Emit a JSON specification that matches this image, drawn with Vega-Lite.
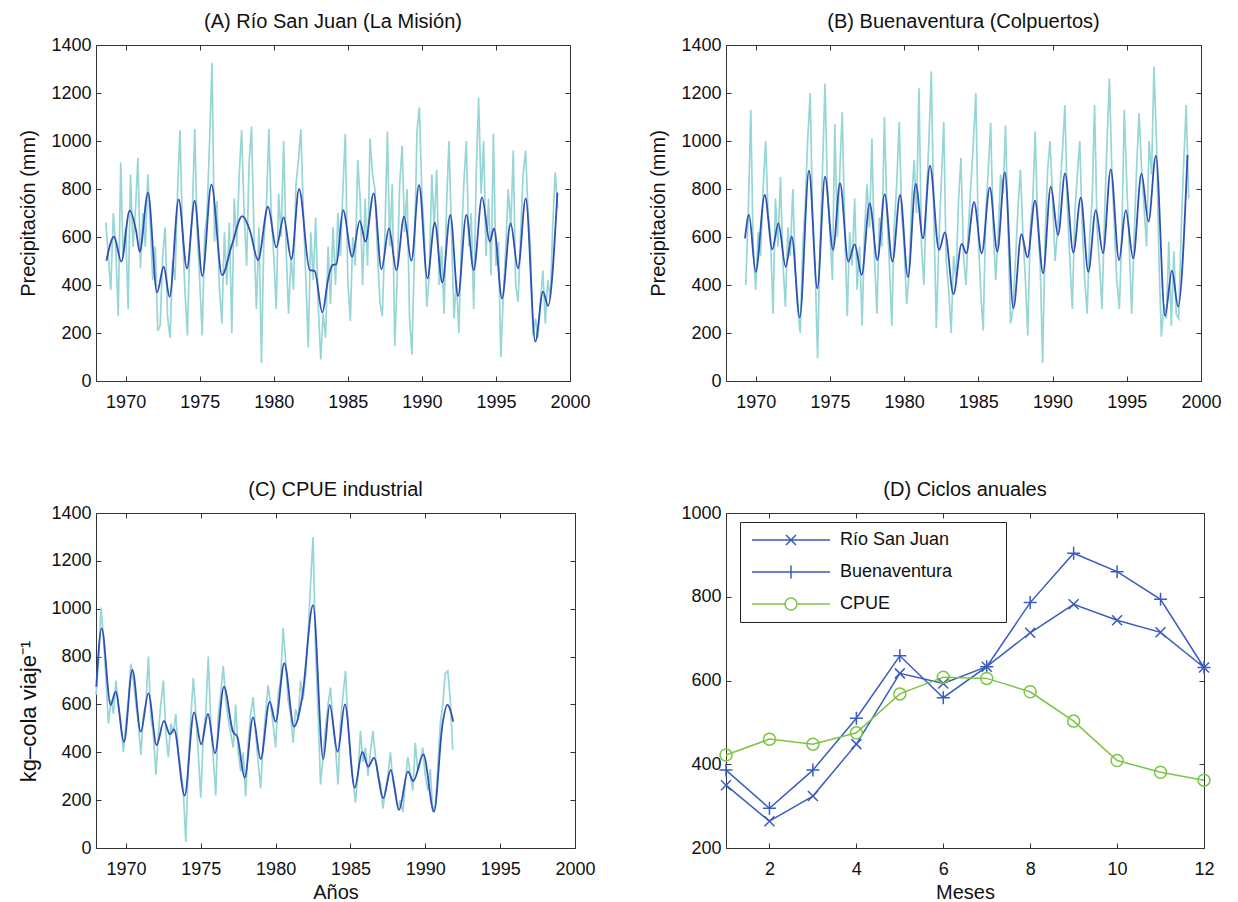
{
"$schema":"https://vega.github.io/schema/vega-lite/v6.json",
"background":"white",
"padding":{"left":17,"top":11,"right":5,"bottom":0},
"config":{
 "font":"Liberation Sans",
 "view":{"stroke":"#333","strokeWidth":1},
 "axis":{"grid":false,"domain":false,"tickSize":-5,"tickColor":"#333","tickWidth":1,"labelFontSize":18,"labelColor":"#111","titleFontSize":20,"titleFontWeight":"normal","titleColor":"#111","labelFlush":false,"labelOverlap":false},
 "axisX":{"labelPadding":17,"titlePadding":4},
 "axisY":{"labelPadding":10,"titlePadding":12},
 "title":{"fontSize":20,"fontWeight":"normal","offset":4,"color":"#111"}
},
"datasets":{
"raw":[
{"t":1968.00,"c":640},{"t":1968.17,"c":780},{"t":1968.33,"c":1005},{"t":1968.50,"c":880},{"t":1968.67,"a":660,"c":700},{"t":1968.83,"a":520,"c":520},
{"t":1969.00,"a":380,"c":620},{"t":1969.17,"a":700,"c":560},{"t":1969.33,"a":560,"b":400,"c":700},{"t":1969.50,"a":270,"b":700,"c":600},{"t":1969.67,"a":910,"b":1130,"c":520},{"t":1969.83,"a":520,"b":560,"c":400},
{"t":1970.00,"a":640,"b":380,"c":520},{"t":1970.17,"a":300,"b":620,"c":620},{"t":1970.33,"a":860,"b":520,"c":770},{"t":1970.50,"a":560,"b":800,"c":700},{"t":1970.67,"a":720,"b":1000,"c":600},{"t":1970.83,"a":930,"b":700,"c":520},
{"t":1971.00,"a":470,"b":600,"c":390},{"t":1971.17,"a":700,"b":280,"c":560},{"t":1971.33,"a":560,"b":760,"c":600},{"t":1971.50,"a":860,"b":560,"c":800},{"t":1971.67,"a":640,"b":850,"c":540},{"t":1971.83,"a":420,"b":500,"c":480},
{"t":1972.00,"a":560,"b":310,"c":305},{"t":1972.17,"a":210,"b":640,"c":480},{"t":1972.33,"a":230,"b":520,"c":600},{"t":1972.50,"a":520,"b":800,"c":700},{"t":1972.67,"a":640,"b":460,"c":480},{"t":1972.83,"a":270,"b":300,"c":380},
{"t":1973.00,"a":180,"b":200,"c":520},{"t":1973.17,"a":500,"b":560,"c":480},{"t":1973.33,"a":420,"b":720,"c":560},{"t":1973.50,"a":780,"b":1000,"c":400},{"t":1973.67,"a":1045,"b":1200,"c":320},{"t":1973.83,"a":640,"b":700,"c":240},
{"t":1974.00,"a":380,"b":480,"c":25},{"t":1974.17,"a":190,"b":95,"c":360},{"t":1974.33,"a":560,"b":560,"c":540},{"t":1974.50,"a":700,"b":880,"c":710},{"t":1974.67,"a":1050,"b":1240,"c":560},{"t":1974.83,"a":620,"b":800,"c":400},
{"t":1975.00,"a":420,"b":620,"c":210},{"t":1975.17,"a":190,"b":420,"c":480},{"t":1975.33,"a":600,"b":1070,"c":560},{"t":1975.50,"a":700,"b":600,"c":800},{"t":1975.67,"a":1000,"b":880,"c":520},{"t":1975.83,"a":1325,"b":1120,"c":380},
{"t":1976.00,"a":580,"b":640,"c":220},{"t":1976.17,"a":750,"b":270,"c":560},{"t":1976.33,"a":390,"b":620,"c":640},{"t":1976.50,"a":240,"b":480,"c":760},{"t":1976.67,"a":620,"b":760,"c":620},{"t":1976.83,"a":400,"b":380,"c":540},
{"t":1977.00,"a":660,"b":560,"c":480},{"t":1977.17,"a":200,"b":230,"c":420},{"t":1977.33,"a":760,"b":620,"c":600},{"t":1977.50,"a":560,"b":820,"c":400},{"t":1977.67,"a":860,"b":640,"c":320},{"t":1977.83,"a":1045,"b":1010,"c":400},
{"t":1978.00,"a":700,"b":520,"c":215},{"t":1978.17,"a":480,"b":280,"c":440},{"t":1978.33,"a":900,"b":680,"c":560},{"t":1978.50,"a":1060,"b":560,"c":630},{"t":1978.67,"a":600,"b":1100,"c":480},{"t":1978.83,"a":300,"b":720,"c":360},
{"t":1979.00,"a":640,"b":500,"c":250},{"t":1979.17,"a":75,"b":230,"c":440},{"t":1979.33,"a":580,"b":640,"c":560},{"t":1979.50,"a":720,"b":820,"c":680},{"t":1979.67,"a":1050,"b":1080,"c":600},{"t":1979.83,"a":700,"b":700,"c":520},
{"t":1980.00,"a":520,"b":560,"c":420},{"t":1980.17,"a":300,"b":320,"c":640},{"t":1980.33,"a":780,"b":440,"c":700},{"t":1980.50,"a":600,"b":740,"c":920},{"t":1980.67,"a":1000,"b":920,"c":780},{"t":1980.83,"a":560,"b":700,"c":620},
{"t":1981.00,"a":280,"b":1220,"c":560},{"t":1981.17,"a":520,"b":560,"c":440},{"t":1981.33,"a":380,"b":400,"c":580},{"t":1981.50,"a":820,"b":760,"c":540},{"t":1981.67,"a":920,"b":1000,"c":700},{"t":1981.83,"a":1050,"b":1290,"c":620},
{"t":1982.00,"a":700,"b":700,"c":720},{"t":1982.17,"a":420,"b":220,"c":880},{"t":1982.33,"a":140,"b":560,"c":1100},{"t":1982.50,"a":620,"b":820,"c":1300},{"t":1982.67,"a":420,"b":1080,"c":820},{"t":1982.83,"a":680,"b":500,"c":580},
{"t":1983.00,"a":320,"b":380,"c":265},{"t":1983.17,"a":90,"b":200,"c":380},{"t":1983.33,"a":280,"b":520,"c":500},{"t":1983.50,"a":180,"b":420,"c":600},{"t":1983.67,"a":560,"b":760,"c":670},{"t":1983.83,"a":320,"b":930,"c":520},
{"t":1984.00,"a":640,"b":520,"c":420},{"t":1984.17,"a":400,"b":400,"c":265},{"t":1984.33,"a":700,"b":640,"c":520},{"t":1984.50,"a":520,"b":820,"c":640},{"t":1984.67,"a":800,"b":1000,"c":740},{"t":1984.83,"a":1030,"b":1200,"c":520},
{"t":1985.00,"a":420,"b":600,"c":380},{"t":1985.17,"a":250,"b":360,"c":290},{"t":1985.33,"a":600,"b":210,"c":190},{"t":1985.50,"a":480,"b":700,"c":300},{"t":1985.67,"a":920,"b":880,"c":490},{"t":1985.83,"a":760,"b":1075,"c":360},
{"t":1986.00,"a":400,"b":640,"c":420},{"t":1986.17,"a":760,"b":420,"c":300},{"t":1986.33,"a":480,"b":600,"c":400},{"t":1986.50,"a":1010,"b":860,"c":490},{"t":1986.67,"a":860,"b":780,"c":380},{"t":1986.83,"a":800,"b":1065,"c":300},
{"t":1987.00,"a":540,"b":640,"c":270},{"t":1987.17,"a":330,"b":240,"c":165},{"t":1987.33,"a":270,"b":300,"c":240},{"t":1987.50,"a":600,"b":500,"c":300},{"t":1987.67,"a":1040,"b":720,"c":400},{"t":1987.83,"a":560,"b":880,"c":280},
{"t":1988.00,"a":820,"b":620,"c":240},{"t":1988.17,"a":145,"b":420,"c":160},{"t":1988.33,"a":420,"b":190,"c":200},{"t":1988.50,"a":820,"b":640,"c":150},{"t":1988.67,"a":980,"b":760,"c":280},{"t":1988.83,"a":620,"b":1040,"c":380},
{"t":1989.00,"a":800,"b":640,"c":310},{"t":1989.17,"a":260,"b":480,"c":240},{"t":1989.33,"a":110,"b":75,"c":440},{"t":1989.50,"a":540,"b":600,"c":320},{"t":1989.67,"a":1040,"b":880,"c":360},{"t":1989.83,"a":1140,"b":1000,"c":420},
{"t":1990.00,"a":780,"b":760,"c":300},{"t":1990.17,"a":600,"b":500,"c":240},{"t":1990.33,"a":310,"b":620,"c":330},{"t":1990.50,"a":440,"b":800,"c":150},{"t":1990.67,"a":860,"b":960,"c":180},{"t":1990.83,"a":640,"b":1150,"c":330},
{"t":1991.00,"a":880,"b":720,"c":520},{"t":1991.17,"a":400,"b":500,"c":600},{"t":1991.33,"a":560,"b":300,"c":730},{"t":1991.50,"a":280,"b":700,"c":740},{"t":1991.67,"a":740,"b":860,"c":620},{"t":1991.83,"a":1000,"b":1000,"c":410},
{"t":1992.00,"a":620,"b":640},{"t":1992.17,"a":260,"b":420},{"t":1992.33,"a":420,"b":280},{"t":1992.50,"a":200,"b":600},{"t":1992.67,"a":580,"b":760},{"t":1992.83,"a":820,"b":1150},
{"t":1993.00,"a":1000,"b":640},{"t":1993.17,"a":560,"b":480},{"t":1993.33,"a":700,"b":300},{"t":1993.50,"a":300,"b":680},{"t":1993.67,"a":860,"b":1000},{"t":1993.83,"a":1180,"b":1260},
{"t":1994.00,"a":780,"b":860},{"t":1994.17,"a":1000,"b":640},{"t":1994.33,"a":520,"b":420},{"t":1994.50,"a":760,"b":300},{"t":1994.67,"a":440,"b":620},{"t":1994.83,"a":1030,"b":1130},
{"t":1995.00,"a":480,"b":820},{"t":1995.17,"a":580,"b":560},{"t":1995.33,"a":100,"b":280},{"t":1995.50,"a":360,"b":600},{"t":1995.67,"a":560,"b":900},{"t":1995.83,"a":800,"b":1115},
{"t":1996.00,"a":640,"b":880},{"t":1996.17,"a":960,"b":720},{"t":1996.33,"a":400,"b":560},{"t":1996.50,"a":330,"b":1000},{"t":1996.67,"a":620,"b":860},{"t":1996.83,"a":860,"b":1310},
{"t":1997.00,"a":960,"b":1000},{"t":1997.17,"a":700,"b":500},{"t":1997.33,"a":560,"b":185},{"t":1997.50,"a":190,"b":320},{"t":1997.67,"a":260,"b":260},{"t":1997.83,"a":180,"b":580},
{"t":1998.00,"a":330,"b":230},{"t":1998.17,"a":460,"b":540},{"t":1998.33,"a":240,"b":280},{"t":1998.50,"a":420,"b":260},{"t":1998.67,"a":340,"b":640},{"t":1998.83,"a":640,"b":900},
{"t":1999.00,"a":870,"b":1150},{"t":1999.17,"a":720,"b":760}
],
"smA":[
{"t":1968.70,"v":501},{"t":1969.22,"v":601},{"t":1969.71,"v":497},{"t":1970.27,"v":710},{"t":1970.72,"v":622},{"t":1970.95,"v":539},{"t":1971.51,"v":785},{"t":1972.12,"v":369},{"t":1972.57,"v":476},{"t":1972.97,"v":351},{"t":1973.58,"v":757},{"t":1974.14,"v":469},{"t":1974.66,"v":751},{"t":1975.18,"v":437},{"t":1975.79,"v":819},{"t":1976.51,"v":441},{"t":1977.14,"v":560},{"t":1977.88,"v":687},{"t":1978.38,"v":629},{"t":1978.94,"v":504},{"t":1979.61,"v":726},{"t":1980.17,"v":557},{"t":1980.67,"v":682},{"t":1981.19,"v":507},{"t":1981.71,"v":800},{"t":1982.43,"v":462},{"t":1982.76,"v":459},{"t":1983.28,"v":285},{"t":1983.66,"v":421},{"t":1983.96,"v":483},{"t":1984.23,"v":487},{"t":1984.68,"v":712},{"t":1985.29,"v":518},{"t":1985.81,"v":667},{"t":1986.19,"v":581},{"t":1986.75,"v":782},{"t":1987.27,"v":465},{"t":1987.78,"v":636},{"t":1988.28,"v":462},{"t":1988.80,"v":685},{"t":1989.29,"v":501},{"t":1989.81,"v":817},{"t":1990.37,"v":428},{"t":1990.87,"v":660},{"t":1991.38,"v":410},{"t":1991.92,"v":692},{"t":1992.44,"v":354},{"t":1993.00,"v":692},{"t":1993.50,"v":462},{"t":1994.06,"v":765},{"t":1994.58,"v":581},{"t":1994.87,"v":636},{"t":1995.41,"v":344},{"t":1995.99,"v":657},{"t":1996.49,"v":469},{"t":1997.01,"v":761},{"t":1997.66,"v":164},{"t":1998.18,"v":372},{"t":1998.52,"v":313},{"t":1999.15,"v":785}
],
"smB":[
{"t":1969.28,"v":594},{"t":1969.55,"v":692},{"t":1970.00,"v":455},{"t":1970.61,"v":775},{"t":1971.12,"v":549},{"t":1971.53,"v":657},{"t":1972.02,"v":476},{"t":1972.43,"v":601},{"t":1972.97,"v":265},{"t":1973.59,"v":876},{"t":1974.15,"v":386},{"t":1974.67,"v":851},{"t":1975.21,"v":546},{"t":1975.68,"v":824},{"t":1976.24,"v":497},{"t":1976.67,"v":569},{"t":1977.14,"v":442},{"t":1977.68,"v":740},{"t":1978.20,"v":504},{"t":1978.69,"v":779},{"t":1979.21,"v":497},{"t":1979.73,"v":775},{"t":1980.26,"v":432},{"t":1980.78,"v":821},{"t":1981.27,"v":594},{"t":1981.74,"v":897},{"t":1982.35,"v":546},{"t":1982.75,"v":619},{"t":1983.32,"v":362},{"t":1983.88,"v":571},{"t":1984.19,"v":532},{"t":1984.71,"v":745},{"t":1985.23,"v":532},{"t":1985.77,"v":807},{"t":1986.28,"v":539},{"t":1986.78,"v":869},{"t":1987.36,"v":303},{"t":1987.90,"v":612},{"t":1988.31,"v":515},{"t":1988.82,"v":751},{"t":1989.36,"v":449},{"t":1989.88,"v":810},{"t":1990.37,"v":608},{"t":1990.84,"v":865},{"t":1991.40,"v":535},{"t":1991.90,"v":764},{"t":1992.41,"v":455},{"t":1992.91,"v":712},{"t":1993.40,"v":532},{"t":1993.92,"v":882},{"t":1994.48,"v":504},{"t":1994.93,"v":712},{"t":1995.43,"v":511},{"t":1995.99,"v":865},{"t":1996.46,"v":664},{"t":1996.96,"v":939},{"t":1997.58,"v":271},{"t":1998.04,"v":460},{"t":1998.46,"v":310},{"t":1999.09,"v":942}
],
"smC":[
{"t":1968.02,"v":674},{"t":1968.38,"v":918},{"t":1968.98,"v":598},{"t":1969.31,"v":653},{"t":1969.87,"v":444},{"t":1970.43,"v":744},{"t":1970.99,"v":486},{"t":1971.50,"v":646},{"t":1972.05,"v":430},{"t":1972.54,"v":531},{"t":1972.94,"v":475},{"t":1973.21,"v":496},{"t":1973.92,"v":219},{"t":1974.55,"v":567},{"t":1975.03,"v":433},{"t":1975.48,"v":560},{"t":1975.95,"v":396},{"t":1976.55,"v":674},{"t":1977.15,"v":486},{"t":1977.44,"v":465},{"t":1977.93,"v":294},{"t":1978.49,"v":546},{"t":1979.00,"v":372},{"t":1979.60,"v":611},{"t":1980.00,"v":528},{"t":1980.58,"v":772},{"t":1981.23,"v":507},{"t":1981.78,"v":632},{"t":1982.50,"v":1015},{"t":1983.18,"v":372},{"t":1983.61,"v":598},{"t":1984.14,"v":402},{"t":1984.63,"v":600},{"t":1985.28,"v":252},{"t":1985.79,"v":402},{"t":1986.19,"v":340},{"t":1986.57,"v":377},{"t":1987.19,"v":208},{"t":1987.69,"v":326},{"t":1988.24,"v":159},{"t":1988.84,"v":319},{"t":1989.20,"v":280},{"t":1989.87,"v":391},{"t":1990.58,"v":152},{"t":1991.14,"v":514},{"t":1991.47,"v":598},{"t":1991.87,"v":528}
],
"ann":[
{"m":1,"s":"Río San Juan","v":350},{"m":2,"s":"Río San Juan","v":264},{"m":3,"s":"Río San Juan","v":324},{"m":4,"s":"Río San Juan","v":448},{"m":5,"s":"Río San Juan","v":617},{"m":6,"s":"Río San Juan","v":593},{"m":7,"s":"Río San Juan","v":633},{"m":8,"s":"Río San Juan","v":714},{"m":9,"s":"Río San Juan","v":782},{"m":10,"s":"Río San Juan","v":744},{"m":11,"s":"Río San Juan","v":715},{"m":12,"s":"Río San Juan","v":631},
{"m":1,"s":"Buenaventura","v":386},{"m":2,"s":"Buenaventura","v":295},{"m":3,"s":"Buenaventura","v":386},{"m":4,"s":"Buenaventura","v":510},{"m":5,"s":"Buenaventura","v":659},{"m":6,"s":"Buenaventura","v":559},{"m":7,"s":"Buenaventura","v":633},{"m":8,"s":"Buenaventura","v":786},{"m":9,"s":"Buenaventura","v":904},{"m":10,"s":"Buenaventura","v":860},{"m":11,"s":"Buenaventura","v":794},{"m":12,"s":"Buenaventura","v":631},
{"m":1,"s":"CPUE","v":422},{"m":2,"s":"CPUE","v":460},{"m":3,"s":"CPUE","v":448},{"m":4,"s":"CPUE","v":475},{"m":5,"s":"CPUE","v":568},{"m":6,"s":"CPUE","v":608},{"m":7,"s":"CPUE","v":605},{"m":8,"s":"CPUE","v":573},{"m":9,"s":"CPUE","v":503},{"m":10,"s":"CPUE","v":409},{"m":11,"s":"CPUE","v":381},{"m":12,"s":"CPUE","v":362}
]
},
"columns":2,
"spacing":{"row":132,"column":151},
"bounds":"flush",
"concat":[
{
 "title":"(A) Río San Juan (La Misión)",
 "width":474,"height":336,
 "resolve":{"axis":{"x":"independent","y":"independent"}},
 "layer":[
  {"data":{"name":"raw"},"transform":[{"filter":"isValid(datum.a)"}],
   "mark":{"type":"line","color":"#98d5d5","strokeWidth":1.7},
   "encoding":{
    "x":{"field":"t","type":"quantitative","scale":{"domain":[1968,2000],"nice":false,"zero":false},"axis":{"orient":"bottom","values":[1970,1975,1980,1985,1990,1995,2000],"format":"d","title":null}},
    "y":{"field":"a","type":"quantitative","scale":{"domain":[0,1400],"nice":false},"axis":{"orient":"left","values":[0,200,400,600,800,1000,1200,1400],"format":"d","title":"Precipitación (mm)"}}}},
  {"data":{"name":"smA"},
   "mark":{"type":"line","color":"#3050b5","strokeWidth":1.8,"interpolate":"monotone"},
   "encoding":{
    "x":{"field":"t","type":"quantitative","axis":{"orient":"top","values":[1970,1975,1980,1985,1990,1995,2000],"labels":false,"title":null}},
    "y":{"field":"v","type":"quantitative","axis":{"orient":"right","values":[0,200,400,600,800,1000,1200,1400],"labels":false,"title":null}}}}
 ]
},
{
 "title":"(B) Buenaventura (Colpuertos)",
 "width":475,"height":336,
 "resolve":{"axis":{"x":"independent","y":"independent"}},
 "layer":[
  {"data":{"name":"raw"},"transform":[{"filter":"isValid(datum.b)"}],
   "mark":{"type":"line","color":"#98d5d5","strokeWidth":1.7},
   "encoding":{
    "x":{"field":"t","type":"quantitative","scale":{"domain":[1968,2000],"nice":false,"zero":false},"axis":{"orient":"bottom","values":[1970,1975,1980,1985,1990,1995,2000],"format":"d","title":null}},
    "y":{"field":"b","type":"quantitative","scale":{"domain":[0,1400],"nice":false},"axis":{"orient":"left","values":[0,200,400,600,800,1000,1200,1400],"format":"d","title":"Precipitación (mm)"}}}},
  {"data":{"name":"smB"},
   "mark":{"type":"line","color":"#3050b5","strokeWidth":1.8,"interpolate":"monotone"},
   "encoding":{
    "x":{"field":"t","type":"quantitative","axis":{"orient":"top","values":[1970,1975,1980,1985,1990,1995,2000],"labels":false,"title":null}},
    "y":{"field":"v","type":"quantitative","axis":{"orient":"right","values":[0,200,400,600,800,1000,1200,1400],"labels":false,"title":null}}}}
 ]
},
{
 "title":"(C) CPUE industrial",
 "width":479,"height":335,
 "resolve":{"axis":{"x":"independent","y":"independent"}},
 "layer":[
  {"data":{"name":"raw"},"transform":[{"filter":"isValid(datum.c)"}],
   "mark":{"type":"line","color":"#98d5d5","strokeWidth":1.7},
   "encoding":{
    "x":{"field":"t","type":"quantitative","scale":{"domain":[1968,2000],"nice":false,"zero":false},"axis":{"orient":"bottom","values":[1970,1975,1980,1985,1990,1995,2000],"format":"d","title":"Años"}},
    "y":{"field":"c","type":"quantitative","scale":{"domain":[0,1400],"nice":false},"axis":{"orient":"left","values":[0,200,400,600,800,1000,1200,1400],"format":"d","title":"kg–cola viaje⁻¹","titleFontSize":22,"titlePadding":10,"titleY":198}}}},
  {"data":{"name":"smC"},
   "mark":{"type":"line","color":"#3050b5","strokeWidth":1.8,"interpolate":"monotone"},
   "encoding":{
    "x":{"field":"t","type":"quantitative","axis":{"orient":"top","values":[1970,1975,1980,1985,1990,1995,2000],"labels":false,"title":null}},
    "y":{"field":"v","type":"quantitative","axis":{"orient":"right","values":[0,200,400,600,800,1000,1200,1400],"labels":false,"title":null}}}}
 ]
},
{
 "title":"(D) Ciclos anuales",
 "width":478,"height":335,
 "data":{"name":"ann"},
 "resolve":{"axis":{"x":"independent","y":"independent"}},
 "layer":[
  {"transform":[{"filter":"datum.s !== 'CPUE'"}],
   "mark":{"type":"line","strokeWidth":1.5,"color":"#3a5cc0"},
   "encoding":{
    "x":{"field":"m","type":"quantitative","scale":{"domain":[1,12],"nice":false,"zero":false},"axis":{"orient":"bottom","values":[2,4,6,8,10,12],"format":"d","title":"Meses"}},
    "y":{"field":"v","type":"quantitative","scale":{"domain":[200,1000],"nice":false,"zero":false},"axis":{"orient":"left","values":[200,400,600,800,1000],"format":"d","title":null}},
    "detail":{"field":"s","type":"nominal"}}},
  {"transform":[{"filter":"datum.s === 'CPUE'"}],
   "mark":{"type":"line","strokeWidth":1.5,"color":"#7cc544"},
   "encoding":{
    "x":{"field":"m","type":"quantitative","axis":null},
    "y":{"field":"v","type":"quantitative","axis":null}}},
  {"transform":[{"filter":"datum.s === 'Río San Juan'"}],
   "mark":{"type":"point","shape":"M-1,-1L1,1M-1,1L1,-1","size":100,"filled":false,"strokeWidth":1.5,"color":"#3a5cc0","opacity":1},
   "encoding":{
    "x":{"field":"m","type":"quantitative","axis":{"orient":"top","values":[2,4,6,8,10,12],"labels":false,"title":null}},
    "y":{"field":"v","type":"quantitative","axis":{"orient":"right","values":[200,400,600,800,1000],"labels":false,"title":null}}}},
  {"transform":[{"filter":"datum.s === 'Buenaventura'"}],
   "mark":{"type":"point","shape":"M-1,0L1,0M0,-1L0,1","size":169,"filled":false,"strokeWidth":1.5,"color":"#3a5cc0","opacity":1},
   "encoding":{
    "x":{"field":"m","type":"quantitative","axis":null},
    "y":{"field":"v","type":"quantitative","axis":null}}},
  {"transform":[{"filter":"datum.s === 'CPUE'"}],
   "mark":{"type":"point","shape":"circle","size":144,"filled":false,"strokeWidth":1.5,"color":"#7cc544","opacity":1},
   "encoding":{
    "x":{"field":"m","type":"quantitative","axis":null},
    "y":{"field":"v","type":"quantitative","axis":null}}},
  {"transform":[{"filter":"datum.m === 1"}],
   "mark":{"type":"point","filled":false,"strokeWidth":1.5,"opacity":1,"clip":true},
   "encoding":{
    "x":{"field":"m","type":"quantitative","axis":null},
    "y":{"datum":0,"type":"quantitative","axis":null},
    "color":{"field":"s","type":"nominal","scale":{"domain":["Río San Juan","Buenaventura","CPUE"],"range":["#3a5cc0","#3a5cc0","#7cc544"]},
      "legend":{"orient":"none","legendX":644,"legendY":477,"title":null,"strokeColor":"#222","fillColor":"#fff","padding":9,"rowPadding":13,"labelFontSize":18,"labelColor":"#111","symbolSize":144,"symbolStrokeWidth":1.5,"labelOffset":73,"labelLimit":400}},
    "shape":{"field":"s","type":"nominal","scale":{"domain":["Río San Juan","Buenaventura","CPUE"],"range":["M-1,0L12,0M4.67,-0.83L6.33,0.83M4.67,0.83L6.33,-0.83M39.3,0L39.3,0","M-1,0L12,0M5.5,-1.1L5.5,1.1M39.3,0L39.3,0","M-1,0L4.5,0M6.5,0L12,0M6.5,0A1,1,0,1,1,4.5,0A1,1,0,1,1,6.5,0M39.3,0L39.3,0"]},
      "legend":{"orient":"none","legendX":644,"legendY":477,"title":null,"strokeColor":"#222","fillColor":"#fff","padding":9,"rowPadding":13,"labelFontSize":18,"labelColor":"#111","symbolSize":144,"symbolStrokeWidth":1.5,"labelOffset":73,"labelLimit":400}}}}
 ]
}
]
}
